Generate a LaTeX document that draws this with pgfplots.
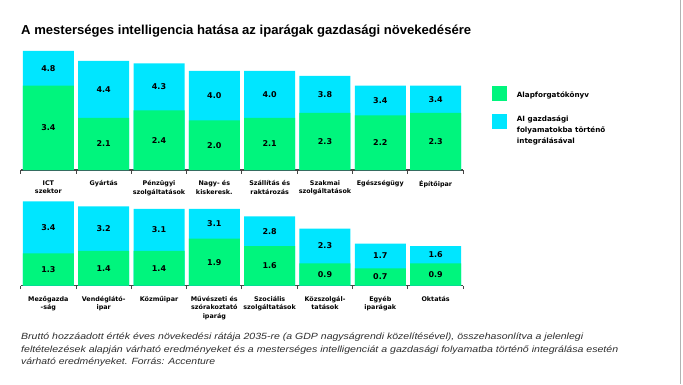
\documentclass[border=0pt]{standalone}
\usepackage{pgfplots}
\pgfplotsset{compat=1.18}
\usepackage{pgfplotstable}
\usepackage{fontspec}
\usepackage{graphicx}
\setmainfont{Liberation Sans}
\newfontfamily\lab{DejaVu Sans}
\definecolor{cgreen}{RGB}{0,245,125}
\definecolor{ccyan}{RGB}{0,230,255}
\definecolor{axgray}{RGB}{70,70,70}
\definecolor{notegray}{RGB}{45,45,45}

\pgfplotstableread{
x base ai
0 3.4 4.8
1 2.1 4.4
2 2.4 4.3
3 2.0 4.0
4 2.1 4.0
5 2.3 3.8
6 2.2 3.4
7 2.3 3.4
}\topdata

\pgfplotstableread{
x base ai
0 1.3 3.4
1 1.4 3.2
2 1.4 3.1
3 1.9 3.1
4 1.6 2.8
5 0.9 2.3
6 0.7 1.7
7 0.9 1.6
}\botdata

\pgfplotsset{
 panel/.style={
  scale only axis, width=442.6pt, height=124pt,
  xmin=-0.5, xmax=7.5, ymin=0, ymax=5,
  axis x line*=bottom, axis y line=none,
  xtick={0,...,7}, minor xtick={-0.5,0.5,...,7.5},
  major x tick style={draw=none},
  minor x tick style={draw=axgray, line width=1pt},
  minor tick length=3.5pt, tick align=outside,
  x axis line style={draw=axgray, line width=1.3pt},
  xticklabel style={font=\lab\bfseries\fontsize{6.4}{8.6}\selectfont, align=center, anchor=north, inner sep=0pt, yshift=-6pt},
  clip=false,
 },
 barA/.style={ybar, bar width=51pt, bar shift=0pt, fill=ccyan, draw=none},
 barB/.style={ybar, bar width=51pt, bar shift=0pt, fill=cgreen, draw=none},
 vlab/.style={draw=none, mark=none, point meta=explicit,
   nodes near coords={\pgfmathprintnumber[fixed,fixed zerofill,precision=1,assume math mode=true]{\pgfplotspointmeta}},
   nodes near coords style={anchor=center, inner sep=0pt, font=\lab\bfseries\fontsize{8}{8}\selectfont, text=black}},
}

\begin{document}
\begin{tikzpicture}
\useasboundingbox (0,0) rectangle (683pt,384pt);

% title
\node[anchor=base west, inner sep=0pt] at (21pt,349pt)
  {\resizebox{450pt}{\height}{\fontsize{13}{13}\selectfont\bfseries A mesterséges intelligencia hatása az iparágak gazdasági növekedésére}};

% top panel
\begin{axis}[panel, at={(20.7pt,214pt)}, anchor=south west,
  xticklabels={{ICT\\szektor},{Gyártás},{Pénzügyi\\szolgáltatások},{Nagy- és\\kiskeresk.},{Szállítás és\\raktározás},{Szakmai\\szolgáltatások},{Egészségügy},{Építőipar}}]
\addplot[barA] table[x=x,y=ai] {\topdata};
\addplot[barB] table[x=x,y=base] {\topdata};
\addplot[vlab] table[x=x, y expr=\thisrow{base}/2, meta=base] {\topdata};
\addplot[vlab] table[x=x, y expr=(\thisrow{base}+\thisrow{ai})/2, meta=ai] {\topdata};
\end{axis}

% bottom panel
\begin{axis}[panel, at={(20.7pt,98.3pt)}, anchor=south west,
  xticklabels={{Mezőgazda\\-ság},{Vendéglátó-\\ipar},{Közműipar},{Művészeti és\\szórakoztató\\iparág},{Szociális\\szolgáltatások},{Közszolgál-\\tatások},{Egyéb\\iparágak},{Oktatás}}]
\addplot[barA] table[x=x,y=ai] {\botdata};
\addplot[barB] table[x=x,y=base] {\botdata};
\addplot[vlab] table[x=x, y expr=\thisrow{base}/2, meta=base] {\botdata};
\addplot[vlab] table[x=x, y expr=(\thisrow{base}+\thisrow{ai})/2, meta=ai] {\botdata};
\end{axis}

% legend
\fill[cgreen] (492.3pt,283.3pt) rectangle (506.7pt,298pt);
\fill[ccyan] (492.3pt,255pt) rectangle (506.7pt,269.7pt);
\node[anchor=west, inner sep=0pt, font=\lab\bfseries\fontsize{7.2}{10.8}\selectfont] at (516.7pt,289pt) {Alapforgatókönyv};
\node[anchor=west, inner sep=0pt, align=left, font=\lab\bfseries\fontsize{7.2}{10.8}\selectfont] at (516.7pt,253.7pt) {AI gazdasági\\folyamatokba történő\\integrálásával};

% footnote
\begin{scope}[every node/.style={anchor=base west, inner sep=0pt, text=notegray, font=\itshape\fontsize{9}{9}\selectfont}]
\node at (21pt,44.5pt) {\resizebox{562pt}{\height}{Bruttó hozzáadott érték éves növekedési rátája 2035-re (a GDP nagyságrendi közelítésével), összehasonlítva a jelenlegi}};
\node at (21pt,32pt) {\resizebox{597pt}{\height}{feltételezések alapján várható eredményeket és a mesterséges intelligenciát a gazdasági folyamatba történő integrálása esetén}};
\node at (21pt,19.5pt) {\resizebox{194pt}{\height}{várható eredményeket. Forrás: Accenture}};
\end{scope}

% right border
\draw[gray!60, line width=0.8pt] (680pt,0) -- (680pt,384pt);
\end{tikzpicture}
\end{document}
